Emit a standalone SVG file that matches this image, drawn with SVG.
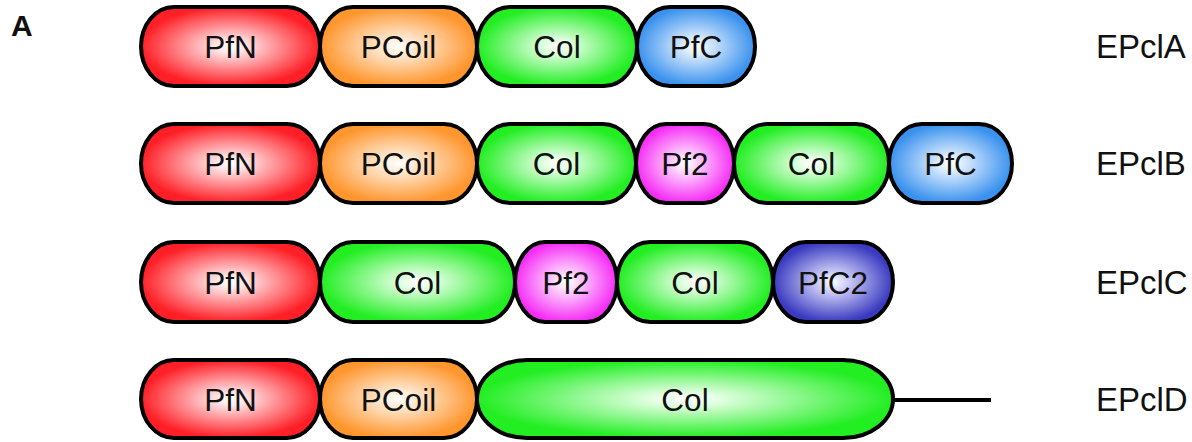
<svg xmlns="http://www.w3.org/2000/svg" width="1192" height="442" viewBox="0 0 1192 442">
<style>
.d{stroke:#000;stroke-width:4}
.t{font-family:"Liberation Sans",Arial,sans-serif;font-size:31.5px;fill:#111;text-anchor:middle}
.l{font-family:"Liberation Sans",Arial,sans-serif;font-size:33px;fill:#111}
</style>
<defs>
<radialGradient id="gR" cx="0.5" cy="0.5" r="0.5"><stop offset="0" stop-color="#ffffff"/><stop offset="0.15" stop-color="#ffe8ea"/><stop offset="1" stop-color="#ff1f26"/></radialGradient>
<radialGradient id="gO" cx="0.5" cy="0.5" r="0.5"><stop offset="0" stop-color="#ffffff"/><stop offset="0.15" stop-color="#fff0e0"/><stop offset="1" stop-color="#ff962e"/></radialGradient>
<radialGradient id="gG" cx="0.5" cy="0.5" r="0.5"><stop offset="0" stop-color="#ffffff"/><stop offset="0.15" stop-color="#e6ffe6"/><stop offset="1" stop-color="#22ee22"/></radialGradient>
<radialGradient id="gB" cx="0.5" cy="0.5" r="0.5"><stop offset="0" stop-color="#ffffff"/><stop offset="0.15" stop-color="#e6f2ff"/><stop offset="1" stop-color="#3a92ee"/></radialGradient>
<radialGradient id="gM" cx="0.5" cy="0.5" r="0.5"><stop offset="0" stop-color="#ffffff"/><stop offset="0.15" stop-color="#ffe6ff"/><stop offset="1" stop-color="#f52ef5"/></radialGradient>
<radialGradient id="gD" cx="0.5" cy="0.5" r="0.5"><stop offset="0" stop-color="#ffffff"/><stop offset="0.15" stop-color="#e0e0ff"/><stop offset="1" stop-color="#3a3ac0"/></radialGradient>
</defs>
<rect width="1192" height="442" fill="#fff"/>
<text x="11" y="36" style="font-family:'Liberation Sans',Arial,sans-serif;font-size:30px;font-weight:bold" fill="#111">A</text>

<g id="rowA">
<g id="a1"><rect class="d" x="141" y="7" width="179" height="79" rx="33" ry="39.5" fill="url(#gR)"/><text class="t" x="230.5" y="57.5">PfN</text></g>
<g id="a2"><rect class="d" x="320" y="7" width="157" height="79" rx="33" ry="39.5" fill="url(#gO)"/><text class="t" x="398.5" y="57.5">PCoil</text></g>
<g id="a3"><rect class="d" x="477" y="7" width="160" height="79" rx="33" ry="39.5" fill="url(#gG)"/><text class="t" x="557" y="57.5">Col</text></g>
<g id="a4"><rect class="d" x="637" y="7" width="118" height="79" rx="33" ry="39.5" fill="url(#gB)"/><text class="t" x="696" y="57.5">PfC</text></g>
<text class="l" x="1096" y="58">EPclA</text>
</g>

<g id="rowB">
<g id="b1"><rect class="d" x="141" y="124" width="179" height="79" rx="33" ry="39.5" fill="url(#gR)"/><text class="t" x="230.5" y="174.5">PfN</text></g>
<g id="b2"><rect class="d" x="320" y="124" width="157" height="79" rx="33" ry="39.5" fill="url(#gO)"/><text class="t" x="398.5" y="174.5">PCoil</text></g>
<g id="b3"><rect class="d" x="477" y="124" width="159" height="79" rx="33" ry="39.5" fill="url(#gG)"/><text class="t" x="556.5" y="174.5">Col</text></g>
<g id="b4"><rect class="d" x="636" y="124" width="98" height="79" rx="30" ry="39.5" fill="url(#gM)"/><text class="t" x="685" y="174.5">Pf2</text></g>
<g id="b5"><rect class="d" x="734" y="124" width="155" height="79" rx="33" ry="39.5" fill="url(#gG)"/><text class="t" x="811.5" y="174.5">Col</text></g>
<g id="b6"><rect class="d" x="889" y="124" width="123" height="79" rx="33" ry="39.5" fill="url(#gB)"/><text class="t" x="950.5" y="174.5">PfC</text></g>
<text class="l" x="1096" y="175">EPclB</text>
</g>

<g id="rowC">
<g id="c1"><rect class="d" x="141" y="242" width="179" height="80" rx="33" ry="40" fill="url(#gR)"/><text class="t" x="230.5" y="293.5">PfN</text></g>
<g id="c2"><rect class="d" x="320" y="242" width="195" height="80" rx="33" ry="40" fill="url(#gG)"/><text class="t" x="417.5" y="293.5">Col</text></g>
<g id="c3"><rect class="d" x="515" y="242" width="102" height="80" rx="30" ry="40" fill="url(#gM)"/><text class="t" x="566" y="293.5">Pf2</text></g>
<g id="c4"><rect class="d" x="617" y="242" width="156" height="80" rx="33" ry="40" fill="url(#gG)"/><text class="t" x="695" y="293.5">Col</text></g>
<g id="c5"><rect class="d" x="773" y="242" width="120" height="80" rx="33" ry="40" fill="url(#gD)"/><text class="t" x="833" y="293.5">PfC2</text></g>
<text class="l" x="1096" y="294">EPclC</text>
</g>

<g id="rowD">
<g id="connectors"><line x1="893" y1="400" x2="991" y2="400" stroke="#000" stroke-width="4"/></g>
<g id="d1"><rect class="d" x="141" y="360" width="179" height="78" rx="33" ry="39" fill="url(#gR)"/><text class="t" x="230.5" y="410.5">PfN</text></g>
<g id="d2"><rect class="d" x="320" y="360" width="157" height="78" rx="33" ry="39" fill="url(#gO)"/><text class="t" x="398.5" y="410.5">PCoil</text></g>
<g id="d3"><rect class="d" x="477" y="360" width="416" height="78" rx="50" ry="39" fill="url(#gG)"/><text class="t" x="685" y="410.5">Col</text></g>
<text class="l" x="1096" y="411">EPclD</text>
</g>
</svg>
